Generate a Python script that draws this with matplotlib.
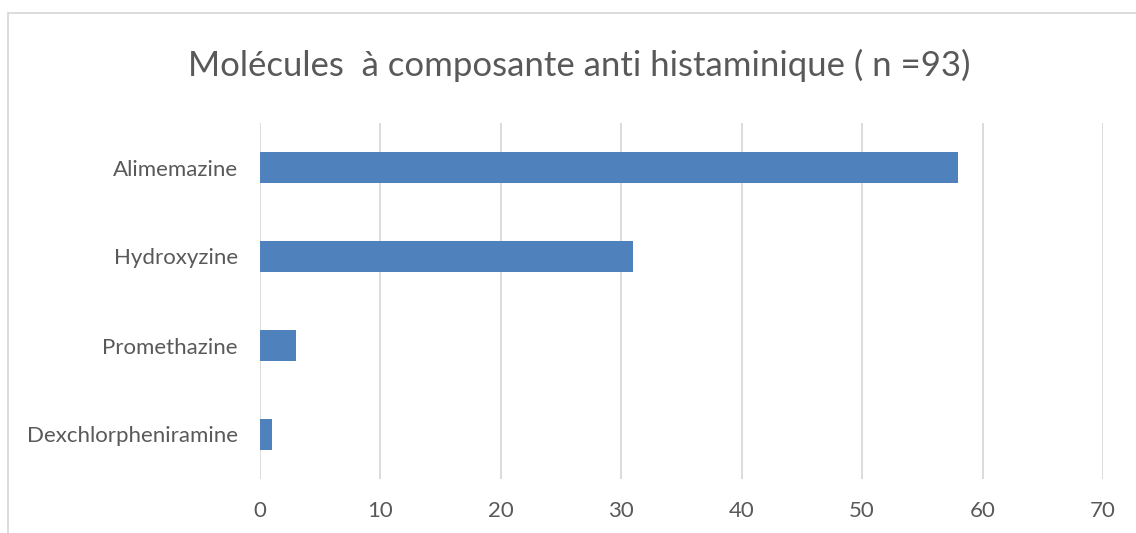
import matplotlib.pyplot as plt
from matplotlib.patches import Rectangle

# data
molecules = ["Alimemazine", "Hydroxyzine", "Promethazine", "Dexchlorpheniramine"]
counts = [58, 31, 3, 1]
x_ticks = [0, 10, 20, 30, 40, 50, 60, 70]

plt.rcParams['font.family'] = ['Lato', 'DejaVu Sans']
txt_col = "#595959"

W, H = 1136, 533
fig = plt.figure(figsize=(W / 100, H / 100), dpi=100)

# chart border (light grey), right/bottom cut off in the reference
fig.patches.append(Rectangle((8 / W, -0.1), 1.2, (H - 13) / H + 0.1, transform=fig.transFigure,
                             fill=False, edgecolor="#d9d9d9", linewidth=1.3))

ax = fig.add_axes([260 / W, (H - 479) / H, (1103 - 260) / W, (479 - 123) / H])

ypos = list(range(len(molecules)))[::-1]
ax.barh(ypos, counts, height=0.35, color="#4f81bd")

ax.set_xlim(0, 70)
ax.set_ylim(-0.5, len(molecules) - 0.5)
ax.set_xticks(x_ticks)
ax.set_yticks(ypos)
ax.set_yticklabels(molecules)
ax.grid(axis="x", color="#d9d9d9", linewidth=1.3)
ax.set_axisbelow(True)
for s in ax.spines.values():
    s.set_visible(False)
ax.tick_params(axis="both", length=0, labelsize=16, colors=txt_col)
ax.tick_params(axis="x", pad=16)
ax.tick_params(axis="y", pad=16)

fig.text(579 / W, (H - 65) / H, "Molécules  à composante anti histaminique ( n =93)",
         ha="center", va="center", fontsize=25, color=txt_col)

fig.savefig("out.png", dpi=100)
